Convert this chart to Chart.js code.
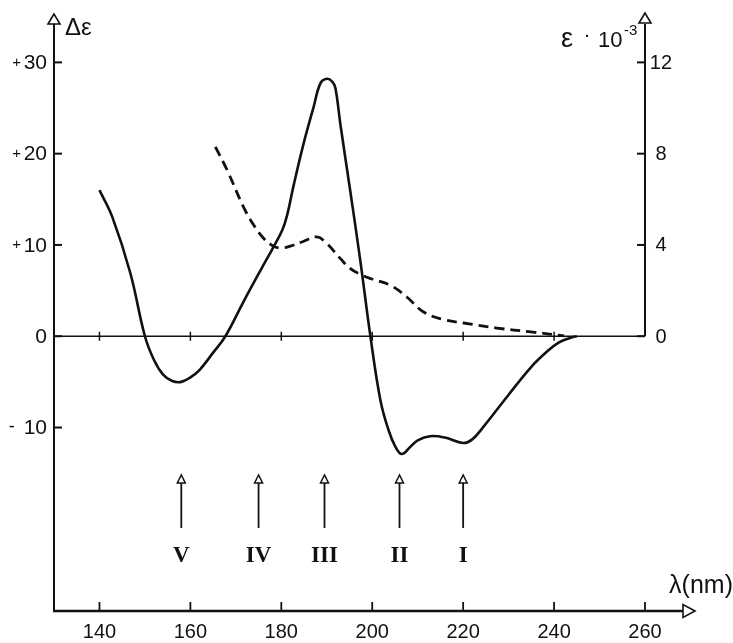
<!DOCTYPE html>
<html>
<head>
<meta charset="utf-8">
<script src="https://cdn.jsdelivr.net/npm/chart.js@4.4.0/dist/chart.umd.min.js"></script>
<style>
html,body{margin:0;padding:0;background:#fff}
#wrap{width:733px;height:643px}
</style>
</head>
<body>
<div id="wrap"><canvas id="cdChart"></canvas></div>
<script>
// circular dichroism (solid line), delta epsilon
const cdWave  = [140, 142.8, 146.8, 150, 152, 154, 156, 158, 160, 162, 165, 167.7, 171.7, 175.4, 178.3, 180.2, 181.3, 182.7, 184.9, 187.1, 188.6, 190, 191.2, 191.9, 193, 195.2, 197.4, 199.6, 201.8, 203.6, 205, 206.5, 208.4, 210, 212.7, 216, 220, 222, 224.5, 229.7, 234.9, 238.4, 241, 243.5, 245]
const cdDelta = [16.0, 13.1, 6.9, 0, -2.6, -4.2, -4.9, -5.0, -4.5, -3.7, -1.8, 0, 3.8, 7.2, 9.8, 11.6, 13.3, 16.5, 21.1, 25.1, 27.7, 28.2, 27.9, 27.2, 23.2, 15.8, 8.2, 0, -7.0, -10.3, -12.0, -12.9, -12.1, -11.4, -10.95, -11.1, -11.7, -11.3, -9.9, -6.6, -3.4, -1.7, -0.7, -0.2, 0]

// absorption (dashed line), epsilon * 10^-3
const absWave = [165.5, 168.1, 171.7, 174, 176.3, 178, 179.8, 182, 184.4, 187.8, 190, 193, 195.2, 197.5, 199.6, 204, 207.6, 211.3, 215.7, 220.1, 227.4, 234.9, 242.2]
const absEps  = [8.3, 7.27, 5.66, 4.85, 4.25, 3.98, 3.86, 3.95, 4.12, 4.35, 4.06, 3.4, 2.96, 2.7, 2.53, 2.23, 1.72, 1.06, 0.73, 0.58, 0.36, 0.19, 0.02]

// axes
const xTicks = [140, 160, 180, 200, 220, 240, 260]
const zeroTicks = [140, 160, 180, 200, 220, 240]
const leftTicks = [30, 20, 10, 0, -10]
const leftSigns = ['+', '+', '+', '', '-']
const leftNums = ['30', '20', '10', '0', '10']
const rightTicks = [12, 8, 4, 0]

// transition bands
const bandNames = ['V', 'IV', 'III', 'II', 'I']
const bandWave = [158, 175, 189.5, 206, 220]

const yMin = -30.1, yMax = 35.3
const ink = '#111'

function hollowArrow(ctx, tx, ty, dir, len, half) {
  ctx.beginPath()
  ctx.moveTo(tx, ty)
  if (dir === 'up') {
    ctx.lineTo(tx - half, ty + len)
    ctx.lineTo(tx + half, ty + len)
  } else {
    ctx.lineTo(tx - len, ty - half)
    ctx.lineTo(tx - len, ty + half)
  }
  ctx.closePath()
  ctx.fillStyle = '#fff'
  ctx.fill()
  ctx.stroke()
}

function line(ctx, x1, y1, x2, y2, w) {
  ctx.lineWidth = w
  ctx.beginPath()
  ctx.moveTo(x1, y1)
  ctx.lineTo(x2, y2)
  ctx.stroke()
}

const framePlugin = {
  id: 'frame',
  beforeDatasetsDraw(chart) {
    const ctx = chart.ctx
    const {left, right, top, bottom} = chart.chartArea
    const x = chart.scales.x, y = chart.scales.y, y2 = chart.scales.y2
    const y0 = y.getPixelForValue(0)
    const xr = x.getPixelForValue(260)
    ctx.save()
    ctx.strokeStyle = ink
    ctx.lineCap = 'butt'

    // zero line
    line(ctx, left, y0, xr, y0, 1.5)
    zeroTicks.forEach(v => {
      const px = x.getPixelForValue(v)
      line(ctx, px, y0 - 4.5, px, y0 + 4.5, 1.5)
    })

    // left axis
    line(ctx, left, bottom + 1, left, top + 10, 2)
    ctx.lineWidth = 1.6
    hollowArrow(ctx, left, top, 'up', 10, 6)
    leftTicks.forEach(v => {
      const py = y.getPixelForValue(v)
      line(ctx, left, py, left + 8, py, 2)
    })

    // right axis
    line(ctx, xr, y0, xr, top + 10, 2)
    ctx.lineWidth = 1.6
    hollowArrow(ctx, xr, top - 1, 'up', 10, 6)
    rightTicks.forEach(v => {
      const py = y2.getPixelForValue(v)
      line(ctx, xr - 8, py, xr, py, 2)
    })

    // bottom axis
    line(ctx, left - 1, bottom, right - 12, bottom, 2.4)
    ctx.lineWidth = 1.6
    hollowArrow(ctx, right, bottom, 'right', 12, 6.5)
    xTicks.forEach(v => {
      const px = x.getPixelForValue(v)
      line(ctx, px, bottom, px, bottom - 9, 1.8)
    })

    // band arrows
    bandWave.forEach(v => {
      const px = x.getPixelForValue(v)
      const tip = y.getPixelForValue(-15.2)
      const base = y.getPixelForValue(-21.0)
      line(ctx, px, tip + 8, px, base, 1.8)
      ctx.lineWidth = 1.5
      hollowArrow(ctx, px, tip, 'up', 8, 4)
    })
    ctx.restore()
  },
  afterDraw(chart) {
    const ctx = chart.ctx
    const {left, bottom} = chart.chartArea
    const x = chart.scales.x, y = chart.scales.y, y2 = chart.scales.y2
    const xr = x.getPixelForValue(260)
    ctx.save()
    ctx.fillStyle = ink
    ctx.textBaseline = 'middle'

    // left tick labels
    leftTicks.forEach((v, i) => {
      const py = y.getPixelForValue(v) + 1
      ctx.textAlign = 'right'
      ctx.font = '21px "Liberation Sans"'
      ctx.fillText(leftNums[i], 47, py)
      const w = ctx.measureText(leftNums[i]).width
      if (leftSigns[i] === '+') {
        ctx.font = '15px "Liberation Sans"'
        ctx.textAlign = 'center'
        ctx.fillText('+', 47 - w - 7, py - 1)
      } else if (leftSigns[i] === '-') {
        ctx.font = '18px "Liberation Sans"'
        ctx.textAlign = 'center'
        ctx.fillText('-', 47 - w - 12, py - 1)
      }
    })

    // right tick labels
    ctx.font = '20px "Liberation Sans"'
    ctx.textAlign = 'center'
    rightTicks.forEach(v => {
      ctx.fillText(String(v), xr + 16, y2.getPixelForValue(v) + 1)
    })

    // bottom tick labels
    xTicks.forEach(v => {
      ctx.fillText(String(v), x.getPixelForValue(v), bottom + 21)
    })

    // axis titles
    ctx.textBaseline = 'alphabetic'
    ctx.textAlign = 'left'
    ctx.font = '24px "Liberation Sans"'
    ctx.fillText('\u0394\u03b5', left + 11, 35)

    ctx.font = '27px "Liberation Sans"'
    ctx.fillText('\u03b5', 561, 47)
    ctx.font = 'bold 14px "Liberation Sans"'
    ctx.fillText('\u00b7', 585, 41)
    ctx.font = '22px "Liberation Sans"'
    ctx.fillText('10', 598, 47)
    ctx.font = '15px "Liberation Sans"'
    ctx.fillText('-3', 624, 35)

    ctx.textAlign = 'right'
    ctx.font = '25px "Liberation Sans"'
    ctx.fillText('\u03bb(nm)', 733, 593)

    // band names
    ctx.textAlign = 'center'
    ctx.textBaseline = 'middle'
    ctx.font = 'bold 23px "Liberation Serif"'
    bandWave.forEach((v, i) => {
      ctx.fillText(bandNames[i], x.getPixelForValue(v), y.getPixelForValue(-24.0) + 1)
    })
    ctx.restore()
  }
}

new Chart(document.getElementById('cdChart'), {
  type: 'line',
  data: {
    datasets: [{
      label: '\u0394\u03b5',
      data: cdWave.map((w, i) => ({x: w, y: cdDelta[i]})),
      yAxisID: 'y',
      borderColor: ink,
      borderWidth: 2.6,
      pointRadius: 0,
      fill: false,
      tension: 0.4
    }, {
      label: '\u03b5\u00b710-3',
      data: absWave.map((w, i) => ({x: w, y: absEps[i]})),
      yAxisID: 'y2',
      borderColor: ink,
      borderWidth: 2.8,
      borderDash: [10, 6],
      pointRadius: 0,
      fill: false,
      tension: 0.4
    }]
  },
  options: {
    responsive: true,
    maintainAspectRatio: false,
    animation: false,
    layout: {padding: {left: 54, right: 38, top: 14, bottom: 32}},
    plugins: {legend: {display: false}, tooltip: {enabled: false}},
    scales: {
      x: {type: 'linear', min: 130, max: 271, display: false},
      y: {type: 'linear', min: yMin, max: yMax, display: false},
      y2: {type: 'linear', min: yMin * 0.4, max: yMax * 0.4, display: false}
    }
  },
  plugins: [framePlugin]
})
</script>
</body>
</html>
